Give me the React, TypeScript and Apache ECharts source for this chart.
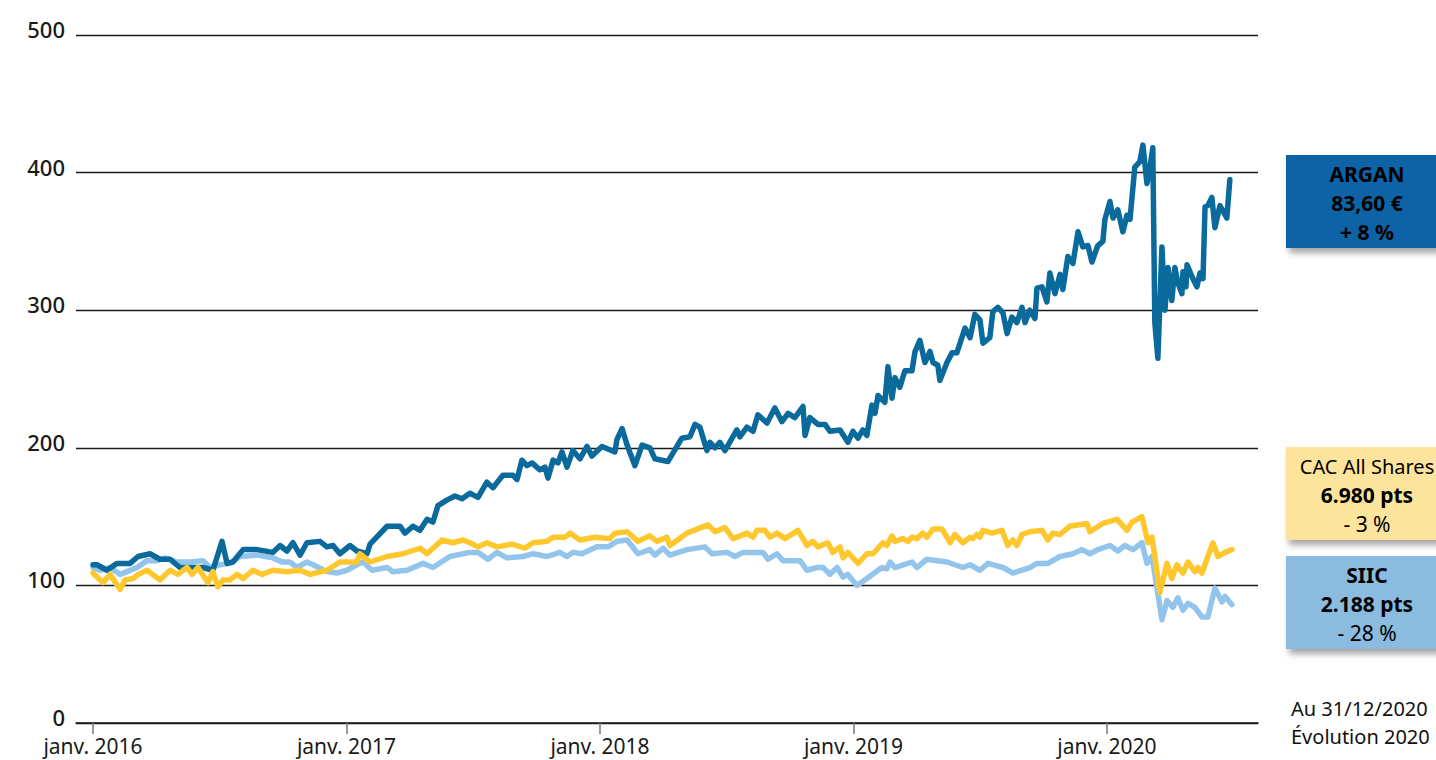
import React, { useEffect, useRef } from "react";
import * as echarts from "echarts";

// [years since janv. 2016, index value]
const argan: [number, number][] = [
  [0,115],[0.016,115],[0.055,111],[0.095,116],[0.146,116],[0.178,121],[0.225,123],[0.264,119],[0.304,119],[0.343,113],[0.394,113],[0.434,113],[0.473,111],[0.509,132],[0.529,116],[0.552,117],[0.592,126],[0.647,126],[0.710,124],[0.738,129],[0.765,125],[0.789,131],[0.817,122],[0.844,131],[0.895,132],[0.923,128],[0.947,129],[0.974,123],
  [1.014,129],[1.041,125],[1.081,123],[1.093,130],[1.160,143],[1.211,143],[1.231,138],[1.262,143],[1.290,140],[1.318,148],[1.341,146],[1.361,158],[1.396,162],[1.428,165],[1.456,163],[1.487,167],[1.519,164],[1.554,175],[1.578,171],[1.617,180],[1.657,180],[1.673,177],[1.692,191],[1.712,187],[1.732,189],[1.763,184],[1.783,186],[1.795,178],[1.815,191],[1.834,189],[1.850,197],[1.870,186],[1.893,198],[1.921,192],[1.949,201],[1.968,194],
  [2.008,201],[2.059,197],[2.067,206],[2.087,214],[2.107,202],[2.138,187],[2.166,202],[2.197,200],[2.217,192],[2.268,190],[2.323,207],[2.355,208],[2.375,217],[2.394,215],[2.422,198],[2.434,204],[2.454,200],[2.473,204],[2.493,198],[2.540,213],[2.552,208],[2.580,215],[2.604,212],[2.623,224],[2.659,218],[2.690,229],[2.718,219],[2.742,225],[2.769,222],[2.801,230],[2.809,209],[2.828,222],[2.860,217],[2.888,217],[2.907,212],[2.947,213],[2.978,204],
  [2.998,212],[3.018,207],[3.037,213],[3.053,209],[3.073,231],[3.085,225],[3.097,238],[3.124,233],[3.136,259],[3.152,236],[3.164,251],[3.183,244],[3.203,256],[3.231,256],[3.243,270],[3.262,278],[3.282,262],[3.302,270],[3.314,262],[3.333,260],[3.341,249],[3.369,262],[3.389,269],[3.408,269],[3.440,287],[3.460,280],[3.479,297],[3.499,293],[3.511,276],[3.538,280],[3.550,299],[3.570,302],[3.590,298],[3.606,283],[3.625,295],[3.645,291],[3.665,302],[3.677,291],[3.696,300],[3.716,294],[3.724,316],[3.744,317],[3.763,306],[3.775,327],[3.795,312],[3.815,326],[3.826,315],[3.846,339],[3.866,334],[3.886,357],[3.905,346],[3.925,347],[3.941,335],[3.964,347],[3.984,350],
  [3.992,366],[4.012,379],[4.024,367],[4.043,373],[4.063,357],[4.079,369],[4.091,366],[4.110,404],[4.130,408],[4.142,420],[4.158,392],[4.170,404],[4.181,418],[4.189,291],[4.201,265],[4.217,346],[4.229,300],[4.241,331],[4.256,307],[4.268,331],[4.280,320],[4.296,312],[4.300,328],[4.312,317],[4.316,333],[4.339,323],[4.355,317],[4.367,327],[4.379,323],[4.387,375],[4.398,376],[4.414,382],[4.426,360],[4.446,376],[4.473,367],[4.485,395],
];

const cac: [number, number][] = [
  [0,109],[0.039,102],[0.067,108],[0.107,97],[0.126,104],[0.158,105],[0.178,108],[0.213,111],[0.264,104],[0.304,111],[0.335,108],[0.371,113],[0.391,108],[0.414,113],[0.454,102],[0.473,110],[0.493,99],[0.513,104],[0.540,104],[0.568,108],[0.592,105],[0.631,111],[0.667,108],[0.710,111],[0.765,110],[0.817,111],[0.856,108],[0.923,111],[0.974,117],
  [1.041,117],[1.053,123],[1.093,117],[1.160,121],[1.223,123],[1.290,127],[1.318,123],[1.377,133],[1.420,131],[1.460,133],[1.487,131],[1.519,128],[1.554,131],[1.594,128],[1.653,130],[1.704,127],[1.736,131],[1.791,132],[1.815,135],[1.862,135],[1.882,138],[1.921,133],[1.980,135],
  [2.039,134],[2.059,138],[2.107,139],[2.150,132],[2.197,136],[2.225,132],[2.264,135],[2.276,129],[2.343,138],[2.426,144],[2.454,139],[2.493,142],[2.525,134],[2.580,138],[2.604,135],[2.619,140],[2.651,140],[2.671,135],[2.698,138],[2.730,134],[2.781,140],[2.817,129],[2.840,132],[2.860,128],[2.899,131],[2.919,124],[2.947,128],[2.959,120],[2.978,124],
  [3.018,116],[3.053,123],[3.077,123],[3.116,131],[3.132,129],[3.152,136],[3.164,132],[3.195,134],[3.215,132],[3.231,135],[3.250,134],[3.274,138],[3.290,135],[3.314,141],[3.349,141],[3.369,135],[3.381,131],[3.400,137],[3.432,131],[3.460,135],[3.471,134],[3.487,137],[3.499,135],[3.511,140],[3.546,138],[3.586,140],[3.609,129],[3.629,133],[3.645,129],[3.665,137],[3.696,139],[3.744,140],[3.767,133],[3.787,138],[3.815,137],[3.854,143],[3.921,145],[3.933,139],[3.984,145],
  [4.040,148],[4.079,140],[4.099,146],[4.138,150],[4.162,131],[4.178,135],[4.209,95],[4.237,116],[4.256,105],[4.276,115],[4.300,109],[4.320,117],[4.347,110],[4.359,113],[4.375,109],[4.418,131],[4.438,121],[4.466,124],[4.493,126],
];

const siic: [number, number][] = [
  [0,113],[0.028,111],[0.067,113],[0.107,108],[0.134,110],[0.174,113],[0.213,118],[0.252,118],[0.284,120],[0.331,117],[0.383,117],[0.434,118],[0.462,113],[0.501,115],[0.540,116],[0.580,121],[0.647,122],[0.710,120],[0.746,117],[0.777,117],[0.805,113],[0.844,117],[0.868,115],[0.923,110],[0.963,109],
  [1.002,111],[1.041,115],[1.065,117],[1.101,111],[1.160,113],[1.183,110],[1.239,111],[1.302,116],[1.341,113],[1.408,121],[1.460,123],[1.487,124],[1.519,124],[1.558,119],[1.594,124],[1.633,120],[1.696,121],[1.736,123],[1.791,121],[1.842,124],[1.870,121],[1.893,124],[1.929,123],[1.988,128],
  [2.032,128],[2.067,132],[2.107,133],[2.150,123],[2.197,126],[2.217,122],[2.249,127],[2.276,122],[2.343,126],[2.414,128],[2.442,123],[2.501,124],[2.533,121],[2.564,124],[2.643,124],[2.663,119],[2.698,123],[2.722,118],[2.789,118],[2.817,111],[2.856,113],[2.880,113],[2.907,108],[2.935,113],[2.959,106],[2.978,108],
  [3.014,100],[3.053,105],[3.112,113],[3.132,112],[3.144,117],[3.164,113],[3.231,117],[3.250,113],[3.290,119],[3.369,117],[3.432,113],[3.460,115],[3.499,111],[3.531,116],[3.590,113],[3.629,109],[3.696,113],[3.724,116],[3.767,116],[3.815,121],[3.866,123],[3.901,126],[3.933,123],[3.964,126],
  [4.012,129],[4.043,125],[4.071,129],[4.103,126],[4.138,131],[4.158,116],[4.178,121],[4.217,75],[4.237,89],[4.260,84],[4.280,91],[4.300,82],[4.320,87],[4.347,84],[4.375,77],[4.398,77],[4.426,98],[4.454,88],[4.466,92],[4.493,86],
];

const yearTicks = [0, 1, 2, 3, 4];
const baseYear = 2016;
const monthLabel = "janv.";

const arganLabel = ["ARGAN", "83,60 €", "+ 8 %"];
const cacLabel = ["CAC All Shares", "6.980 pts", "- 3 %"];
const siicLabel = ["SIIC", "2.188 pts", "- 28 %"];
const noteLabel = ["Au 31/12/2020", "Évolution 2020"];

const FONT = "'Noto Sans', 'Open Sans', sans-serif";
const C_ARGAN = "#0b6a9c";
const C_ARGAN_BOX = "#0964a6";
const C_CAC = "#ffc72e";
const C_CAC_BOX = "#fde49c";
const C_SIIC = "#93c5ec";
const C_SIIC_BOX = "#8cbbe0";

type LineStyle = { w: string; s: number };

function box(top: number, fill: string, lines: string[], color: string, styles: LineStyle[]) {
  const rich: Record<string, any> = {};
  styles.forEach((st, i) => {
    rich["l" + i] = {
      fontFamily: FONT,
      fontWeight: st.w,
      fontSize: st.s,
      lineHeight: 29,
      color,
      align: "center",
    };
  });
  return [
    {
      type: "rect",
      shape: { x: 1286, y: top, width: 170, height: 93 },
      style: {
        fill,
        shadowBlur: 6,
        shadowColor: "rgba(0,0,0,0.35)",
        shadowOffsetX: 3,
        shadowOffsetY: 5,
      },
      z: 10,
    },
    {
      type: "text",
      x: 1367,
      y: top + 48,
      style: {
        text: lines.map((t, i) => `{l${i}|${t}}`).join("\n"),
        rich,
        align: "center",
        verticalAlign: "middle",
      },
      z: 11,
    },
  ];
}

export default function App() {
  const ref = useRef<HTMLDivElement>(null);
  useEffect(() => {
    if (!ref.current) return;
    const chart = echarts.init(ref.current, undefined, { renderer: "svg" });
    const line = (name: string, data: [number, number][], color: string) => ({
      name,
      type: "line",
      data,
      showSymbol: false,
      symbol: "none",
      smooth: false,
      lineStyle: { color, width: 5.5, join: "round", cap: "round" },
    });
    chart.setOption({
      animation: false,
      backgroundColor: "#ffffff",
      grid: { left: 76, right: 178, top: 35, bottom: 37 },
      xAxis: {
        type: "value",
        min: -0.067,
        max: 4.596,
        splitLine: { show: false },
        axisLine: { show: true, lineStyle: { color: "#1a1a1a", width: 1.5 } },
        axisTick: {
          show: true,
          customValues: yearTicks,
          length: 11,
          lineStyle: { color: "#777", width: 1.5 },
        },
        axisLabel: {
          customValues: yearTicks,
          formatter: (v: number) => `${monthLabel} ${baseYear + v}`,
          fontFamily: FONT,
          fontSize: 21,
          lineHeight: 24,
          color: "#1a1a1a",
          margin: 11,
          verticalAlign: "top",
        },
      },
      yAxis: {
        type: "value",
        min: 0,
        max: 500,
        interval: 100,
        axisLine: { show: false },
        axisTick: { show: false },
        splitLine: { show: true, lineStyle: { color: "#1a1a1a", width: 1.3 } },
        axisLabel: {
          fontFamily: FONT,
          fontSize: 22,
          fontWeight: 500,
          color: "#1a1a1a",
          margin: 11,
          verticalAlign: "bottom",
          lineHeight: 12,
        },
      },
      series: [
        line("SIIC", siic, C_SIIC),
        line("ARGAN", argan, C_ARGAN),
        line("CAC All Shares", cac, C_CAC),
      ],
      graphic: [
        ...box(155, C_ARGAN_BOX, arganLabel, "#ffffff", [
          { w: "bold", s: 21 },
          { w: "bold", s: 21 },
          { w: "bold", s: 21 },
        ]),
        ...box(447, C_CAC_BOX, cacLabel, "#111111", [
          { w: "normal", s: 20 },
          { w: "bold", s: 21 },
          { w: "normal", s: 21 },
        ]),
        ...box(556, C_SIIC_BOX, siicLabel, "#111111", [
          { w: "bold", s: 21 },
          { w: "bold", s: 21 },
          { w: "normal", s: 21 },
        ]),
        {
          type: "text",
          x: 1291,
          y: 722,
          style: {
            text: noteLabel.join("\n"),
            fill: "#111111",
            font: `normal 20px ${FONT}`,
            lineHeight: 28,
            align: "left",
            verticalAlign: "middle",
          },
        },
      ],
    });
    return () => chart.dispose();
  }, []);
  return (
    <div
      ref={ref}
      style={{ position: "absolute", left: 0, top: 0, width: 1436, height: 760 }}
    />
  );
}
